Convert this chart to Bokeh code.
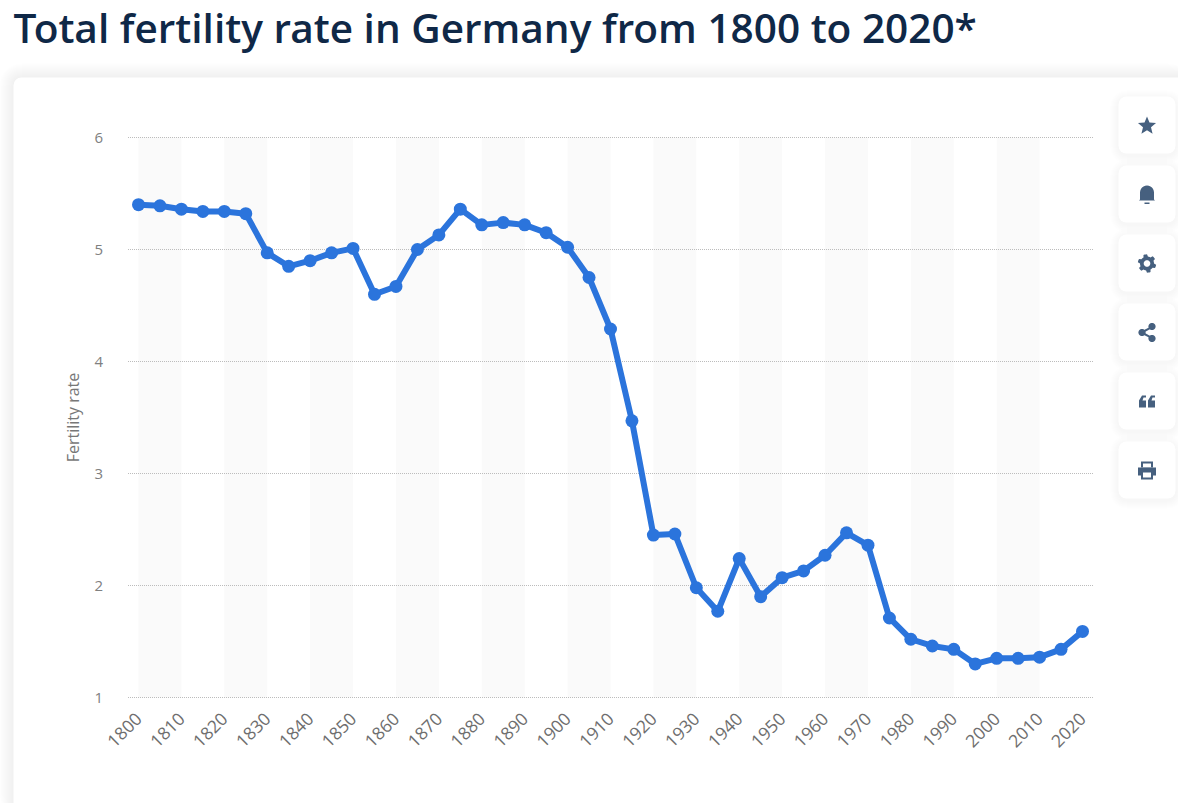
import math
from bokeh.plotting import figure
from bokeh.embed import file_html
from bokeh.resources import INLINE
from bokeh.models import BoxAnnotation, PolyAnnotation, Label, FixedTicker, Range1d

years = list(range(1800, 2021, 5))
fertility = [5.40, 5.39, 5.36, 5.34, 5.34, 5.32, 4.97, 4.85, 4.90, 4.97, 5.01, 4.60, 4.67, 5.00, 5.13,
             5.36, 5.22, 5.24, 5.22, 5.15, 5.02, 4.75, 4.29, 3.47, 2.45, 2.46, 1.98, 1.77, 2.24, 1.90,
             2.07, 2.13, 2.27, 2.47, 2.36, 1.71, 1.52, 1.46, 1.43, 1.30, 1.35, 1.35, 1.36, 1.43, 1.59]
x_ticks = list(range(1800, 2021, 10))
y_ticks = [1, 2, 3, 4, 5, 6]
band_starts = list(range(1800, 2001, 20))
title = "Total fertility rate in Germany from 1800 to 2020*"
y_title = "Fertility rate"

BLUE = "#2b74dc"
ICON = "#46607f"
W, H = 1178, 803
PX_X = 944 / 220   # pixels per year
PX_Y = 112.0       # pixels per unit
X0, Y0 = 138, 697  # pixel of (1800, 1)

p = figure(width=W, height=H, output_backend="svg", toolbar_location=None,
           min_border=0, min_border_left=0, min_border_right=0, min_border_top=0, min_border_bottom=0,
           x_range=Range1d(1800 - X0 / PX_X, 1800 + (W - X0) / PX_X),
           y_range=Range1d(1 - (H - Y0) / PX_Y, 1 + Y0 / PX_Y),
           background_fill_color="#ffffff", border_fill_color="#ffffff", outline_line_color=None)

def box(l, t, r, b, color="#ffffff", alpha=1.0, radius=0, level="image"):
    p.add_layout(BoxAnnotation(left=l, right=r, top=t, bottom=b,
                               left_units="canvas", right_units="canvas", top_units="canvas", bottom_units="canvas",
                               fill_color=color, fill_alpha=alpha, line_color=None,
                               border_radius=radius, level=level))

def poly(pts, color=ICON, level="overlay"):
    p.add_layout(PolyAnnotation(xs=[a for a, _ in pts], ys=[b for _, b in pts],
                                xs_units="canvas", ys_units="canvas",
                                fill_color=color, fill_alpha=1, line_color=None, level=level))

def circle(cx, cy, r, n=28):
    return [(cx + r * math.cos(2 * math.pi * i / n), cy + r * math.sin(2 * math.pi * i / n)) for i in range(n)]

# card with soft shadow
for k in range(14, 0, -1):
    box(13 - k, 77 - k, 1190, 815, "#5a6b8c", 0.006, 8 + k)
box(13, 77, 1190, 815, "#ffffff", 1, 8)

# side buttons
button_tops = [96, 165, 234, 303, 372, 441]
for t in button_tops:
    for k in range(8, 0, -1):
        box(1118 - k, t - k + 2, 1175 + k, t + 57 + k + 2, "#5a6b8c", 0.007, 8 + k, "overlay")
    box(1118, t, 1175, t + 57, "#ffffff", 1, 8, "overlay")

CX = 1146.5
# star
cy = 125
poly([(CX + (9.5 if i % 2 == 0 else 4.2) * math.sin(math.pi * i / 5),
       cy + 0.5 - (9.5 if i % 2 == 0 else 4.2) * math.cos(math.pi * i / 5)) for i in range(10)])
# bell
cy = 194
poly([(CX - 7, cy + 5), (CX - 7, cy - 2)] + [(CX + 7 * math.cos(a), cy - 2 - 7 * math.sin(a)) for a in
      [math.pi * i / 12 for i in range(12, -1, -1)]] + [(CX + 7, cy + 5), (CX + 8, cy + 6), (CX - 8, cy + 6)])
poly([(CX - 2.5, cy + 8), (CX + 2.5, cy + 8), (CX + 2.5, cy + 9.5), (CX - 2.5, cy + 9.5)])
# gear
cy = 263
g = []
for i in range(48):
    a = 2 * math.pi * i / 48
    r = 9.2 if ((i + 3) % 8) < 4 else 7
    g.append((CX + r * math.sin(a), cy - r * math.cos(a)))
poly(g)
poly(circle(CX, cy, 3.3), "#ffffff")
# share
cy = 332
poly([(CX - 5, cy - 1.5), (CX + 5, cy - 6.5), (CX + 6, cy - 5), (CX - 3, cy), (CX + 6, cy + 5), (CX + 5, cy + 6.5), (CX - 5, cy + 1.5)])
poly(circle(CX - 5, cy, 3.6))
poly(circle(CX + 5, cy - 6, 3.6))
poly(circle(CX + 5, cy + 6, 3.6))
# quote
cy = 401
for dx in (-8, 1):
    poly([(CX + dx, cy + 6), (CX + dx, cy - 1), (CX + dx + 3, cy - 6), (CX + dx + 7, cy - 6),
          (CX + dx + 7, cy - 4), (CX + dx + 4.5, cy - 4), (CX + dx + 3.5, cy - 1), (CX + dx + 7, cy - 1), (CX + dx + 7, cy + 6)])
# printer
cy = 470
poly([(CX - 6, cy - 3), (CX - 6, cy - 9), (CX + 6, cy - 9), (CX + 6, cy - 3)])
poly([(CX - 4, cy - 3), (CX - 4, cy - 7), (CX + 4, cy - 7), (CX + 4, cy - 3)], "#ffffff")
poly([(CX - 9, cy - 3), (CX + 9, cy - 3), (CX + 9, cy + 5), (CX + 6, cy + 5), (CX + 6, cy + 9), (CX - 6, cy + 9), (CX - 6, cy + 5), (CX - 9, cy + 5)])
poly([(CX - 4, cy + 2), (CX + 4, cy + 2), (CX + 4, cy + 7), (CX - 4, cy + 7)], "#ffffff")

grid_left = 1800 - 10.5 / PX_X
grid_right = 2020 + 10.5 / PX_X

# decade bands
p.quad(left=band_starts, right=[b + 10 for b in band_starts], bottom=1, top=6,
       fill_color="#fafafa", line_color=None, level="underlay")

# dotted horizontal rules, limited to the plot width
p.segment(x0=[grid_left] * len(y_ticks), x1=[grid_right] * len(y_ticks), y0=y_ticks, y1=y_ticks,
          line_color="#bcbcbc", line_width=1, line_dash="1 1", level="underlay")

p.line(years, fertility, line_color=BLUE, line_width=6, line_join="round", level="guide")
p.scatter(years, fertility, size=13, fill_color=BLUE, line_color=None, level="guide")

p.xaxis.ticker = FixedTicker(ticks=x_ticks)
p.yaxis.ticker = FixedTicker(ticks=y_ticks)
p.xaxis.fixed_location = 1
p.yaxis.fixed_location = grid_left
p.yaxis.bounds = (1, 6)
p.xaxis.major_label_orientation = math.pi / 4
for ax in (p.xaxis[0], p.yaxis[0]):
    ax.axis_line_color = None
    ax.major_tick_line_color = None
    ax.minor_tick_line_color = None
    ax.major_label_text_font = "Open Sans"
p.xaxis.major_label_text_font_size = "17.5px"
p.yaxis.major_label_text_font_size = "15px"
p.xaxis.major_label_text_color = "#6e6e6e"
p.yaxis.major_label_text_color = "#808080"
p.xaxis.major_label_standoff = 12
p.yaxis.major_label_standoff = 19
p.yaxis.axis_label = y_title
p.yaxis.axis_label_text_font = "Open Sans"
p.yaxis.axis_label_text_font_style = "normal"
p.yaxis.axis_label_text_font_size = "16px"
p.yaxis.axis_label_text_color = "#777777"
p.yaxis.axis_label_standoff = 8

p.xgrid.visible = False
p.ygrid.visible = False

p.add_layout(Label(x=13, y=27, x_units="canvas", y_units="canvas", text=title,
                   text_font="Open Sans SemiBold", text_font_size="40.6px",
                   text_color="#0f2847", text_baseline="middle", text_align="left", level="overlay"))

open("out.html", "w").write(file_html(p, INLINE))
